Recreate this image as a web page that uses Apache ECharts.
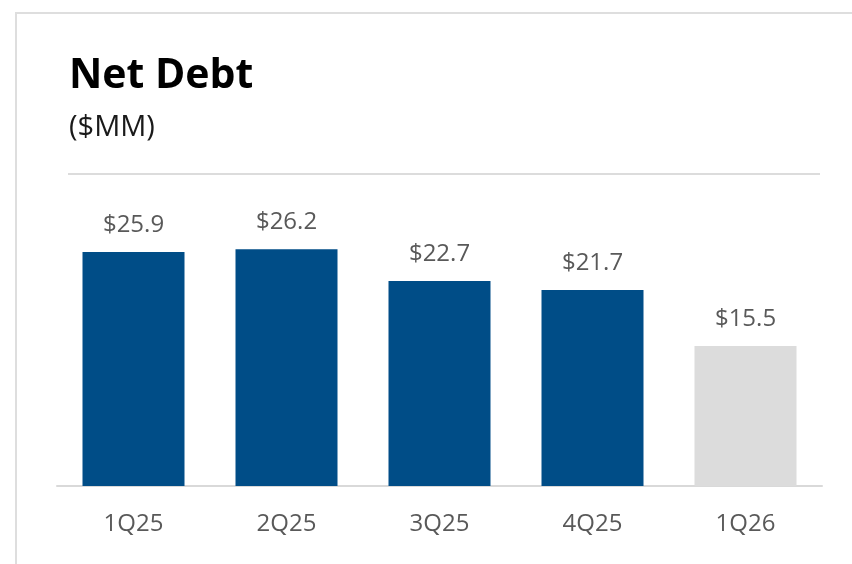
<!DOCTYPE html>
<html>
<head>
<meta charset="utf-8">
<style>
  html, body { margin: 0; padding: 0; background: #ffffff; }
  #chart { width: 852px; height: 564px; }
</style>
<script src="https://cdn.jsdelivr.net/npm/echarts@6/dist/echarts.min.js"></script>
</head>
<body>
<div id="chart"></div>
<script>
// Net debt by quarter, $MM
const quarters = ['1Q25', '2Q25', '3Q25', '4Q25', '1Q26'];
const netDebt = [25.9, 26.2, 22.7, 21.7, 15.5];
const barColors = ['#004D87', '#004D87', '#004D87', '#004D87', '#DCDCDC'];

const FONT = '"Open Sans", "Noto Sans", sans-serif';
const chart = echarts.init(document.getElementById('chart'), null, { renderer: 'canvas' });

chart.setOption({
  backgroundColor: '#ffffff',
  animation: false,
  title: [
    {
      text: 'Net Debt',
      left: 64,
      top: 51,
      textStyle: { fontFamily: FONT, fontSize: 41, fontWeight: 'bold', color: '#000000' }
    },
    {
      text: '($MM)',
      left: 64,
      top: 108,
      textStyle: { fontFamily: FONT, fontSize: 29, fontWeight: 'normal', color: '#1a1a1a' }
    }
  ],
  graphic: [
    {
      type: 'rect',
      shape: { x: 16, y: 13, width: 860, height: 580 },
      style: { fill: 'none', stroke: '#dedede', lineWidth: 2 },
      silent: true
    },
    {
      type: 'line',
      shape: { x1: 68, y1: 174, x2: 820, y2: 174 },
      style: { stroke: '#dcdcdc', lineWidth: 2 },
      silent: true
    }
  ],
  grid: { left: 57, right: 30, top: 215, bottom: 78 },
  xAxis: {
    type: 'category',
    data: quarters,
    axisLine: { show: true, lineStyle: { color: '#d9d9d9', width: 2 } },
    axisTick: { show: false },
    axisLabel: { fontFamily: FONT, fontSize: 24, color: '#595959', margin: 26 }
  },
  yAxis: {
    type: 'value',
    min: 0,
    max: 30,
    show: false,
    splitLine: { show: false }
  },
  series: [{
    type: 'bar',
    barWidth: 102,
    data: netDebt.map((v, i) => ({ value: v, itemStyle: { color: barColors[i] } })),
    label: {
      show: true,
      position: 'top',
      distance: 15,
      fontFamily: FONT,
      fontSize: 24,
      color: '#595959',
      formatter: p => '$' + p.value.toFixed(1)
    }
  }]
});
</script>
</body>
</html>
